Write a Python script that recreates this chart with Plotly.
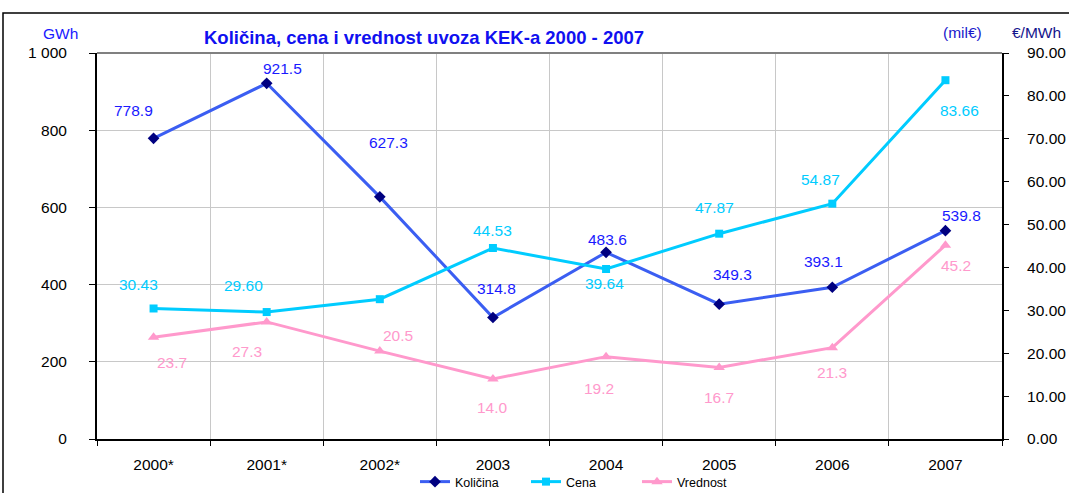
import plotly.graph_objects as go

years = ["2000*", "2001*", "2002*", "2003", "2004", "2005", "2006", "2007"]
kolicina = [778.9, 921.5, 627.3, 314.8, 483.6, 349.3, 393.1, 539.8]
cena = [30.43, 29.60, 32.6, 44.53, 39.64, 47.87, 54.87, 83.66]
vrednost = [23.7, 27.3, 20.5, 14.0, 19.2, 16.7, 21.3, 45.2]

kol_labels = ["778.9", "921.5", "627.3", "314.8", "483.6", "349.3", "393.1", "539.8"]
cena_labels = ["30.43", "29.60", "", "44.53", "39.64", "47.87", "54.87", "83.66"]
vred_labels = ["23.7", "27.3", "20.5", "14.0", "19.2", "16.7", "21.3", "45.2"]

# label offsets (px) relative to points
kol_shift = [(-20, 28), (16, 15), (9, 54), (4, 29), (1, 13), (13, 30), (-9, 26), (16, 15)]
cena_shift = [(-15, 24), (-23, 27), (0, 0), (0, 18), (-2, -15), (-5, 26), (-12, 24), (14, -30)]
vred_shift = [(18, -25), (-20, -30), (18, 16), (0, -29), (-7, -32), (0, -30), (0, -25), (11, -20)]

FONT = "Liberation Sans, Arial, sans-serif"
FS = 15.5
C_KOL_LINE = "#3B5EF2"
C_KOL_MARK = "#000080"
C_KOL_TXT = "#1A1AFF"
C_CENA = "#00CCFF"
C_VRED = "#FF99CC"

fig = go.Figure()
fig.add_trace(go.Scatter(x=years, y=kolicina, name="Količina", mode="lines+markers",
                         line=dict(color=C_KOL_LINE, width=3),
                         marker=dict(symbol="diamond", size=9, color=C_KOL_MARK)))
fig.add_trace(go.Scatter(x=years, y=cena, name="Cena", mode="lines+markers", yaxis="y2",
                         line=dict(color=C_CENA, width=3),
                         marker=dict(symbol="square", size=8, color=C_CENA)))
fig.add_trace(go.Scatter(x=years, y=vrednost, name="Vrednost", mode="lines+markers", yaxis="y2",
                         line=dict(color=C_VRED, width=3),
                         marker=dict(symbol="triangle-up", size=10, color=C_VRED)))

ann = []
for i, (v, t, (dx, dy)) in enumerate(zip(kolicina, kol_labels, kol_shift)):
    if t:
        ann.append(dict(x=i, y=v, xref="x", yref="y", text=t, showarrow=False,
                        xshift=dx, yshift=dy, font=dict(color=C_KOL_TXT, size=FS, family=FONT)))
for i, (v, t, (dx, dy)) in enumerate(zip(cena, cena_labels, cena_shift)):
    if t:
        ann.append(dict(x=i, y=v, xref="x", yref="y2", text=t, showarrow=False,
                        xshift=dx, yshift=dy, font=dict(color=C_CENA, size=FS, family=FONT)))
for i, (v, t, (dx, dy)) in enumerate(zip(vrednost, vred_labels, vred_shift)):
    if t:
        ann.append(dict(x=i, y=v, xref="x", yref="y2", text=t, showarrow=False,
                        xshift=dx, yshift=dy, font=dict(color=C_VRED, size=FS, family=FONT)))

# titles
def paper_text(px, py, text, color, size):
    return dict(x=(px - 97) / 905, y=(439 - py) / 386, xref="paper", yref="paper",
                xanchor="center", yanchor="middle", text=text, showarrow=False,
                font=dict(color=color, size=size, family=FONT))

ann.append(paper_text(424, 37, "<b>Količina, cena i vrednost uvoza KEK-a 2000 - 2007</b>",
                      "#1010F0", 18.5))
ann.append(paper_text(60, 33, "GWh", C_KOL_TXT, FS))
ann.append(paper_text(962, 32, "(mil€)", "#1A1ACC", FS))
ann.append(paper_text(1036, 32, "€/MWh", "#14148C", FS))

shapes = [
    # outer frame
    dict(type="rect", xref="paper", yref="paper",
         x0=(3 - 97) / 905, x1=(1075 - 97) / 905, y0=(439 - 500) / 386, y1=(439 - 13) / 386,
         line=dict(color="black", width=1.5), layer="below"),
    # plot top border
    dict(type="line", xref="paper", yref="paper", x0=0, x1=1, y0=1, y1=1,
         line=dict(color="#808080", width=2)),
]

fig.update_layout(
    template="none",
    width=1069, height=493,
    margin=dict(l=97, r=67, t=53, b=54, autoexpand=False),
    paper_bgcolor="white", plot_bgcolor="white",
    separators=". ",
    font=dict(family=FONT, size=FS, color="black"),
    showlegend=True,
    legend=dict(orientation="h", x=(415 - 97) / 905, xanchor="left",
                yref="container", y=(493 - 482) / 493, yanchor="middle",
                font=dict(size=12.5, family=FONT), entrywidth=66, tracegroupgap=0,
                bgcolor="rgba(0,0,0,0)", borderwidth=0),
    xaxis=dict(type="category", tickson="boundaries", showgrid=True, gridcolor="#C8C8C8",
               gridwidth=1, ticks="outside", ticklen=5, tickcolor="black", tickwidth=1,
               showline=True, linecolor="black", linewidth=2, ticklabelstandoff=10,
               tickfont=dict(size=FS), range=[-0.5, 7.5], zeroline=False, automargin=False),
    yaxis=dict(range=[0, 1000], dtick=200, tickformat=",d", showgrid=True, gridcolor="#C8C8C8",
               gridwidth=1, ticks="outside", ticklen=6, tickcolor="black", tickwidth=1,
               showline=True, linecolor="black", linewidth=2, ticklabelstandoff=19,
               zeroline=False, tickfont=dict(size=FS), automargin=False),
    yaxis2=dict(range=[0, 90], dtick=10, tickformat=".2f", overlaying="y", side="right",
                showgrid=False, ticks="outside", ticklen=5, tickcolor="black", tickwidth=1,
                showline=True, linecolor="black", linewidth=2, ticklabelstandoff=15,
                zeroline=False, tickfont=dict(size=FS), automargin=False),
    annotations=ann,
    shapes=shapes,
)

fig.write_html("out.html", config={"displayModeBar": False},
               post_script="document.body.style.margin='0';document.body.style.overflow='hidden';")
